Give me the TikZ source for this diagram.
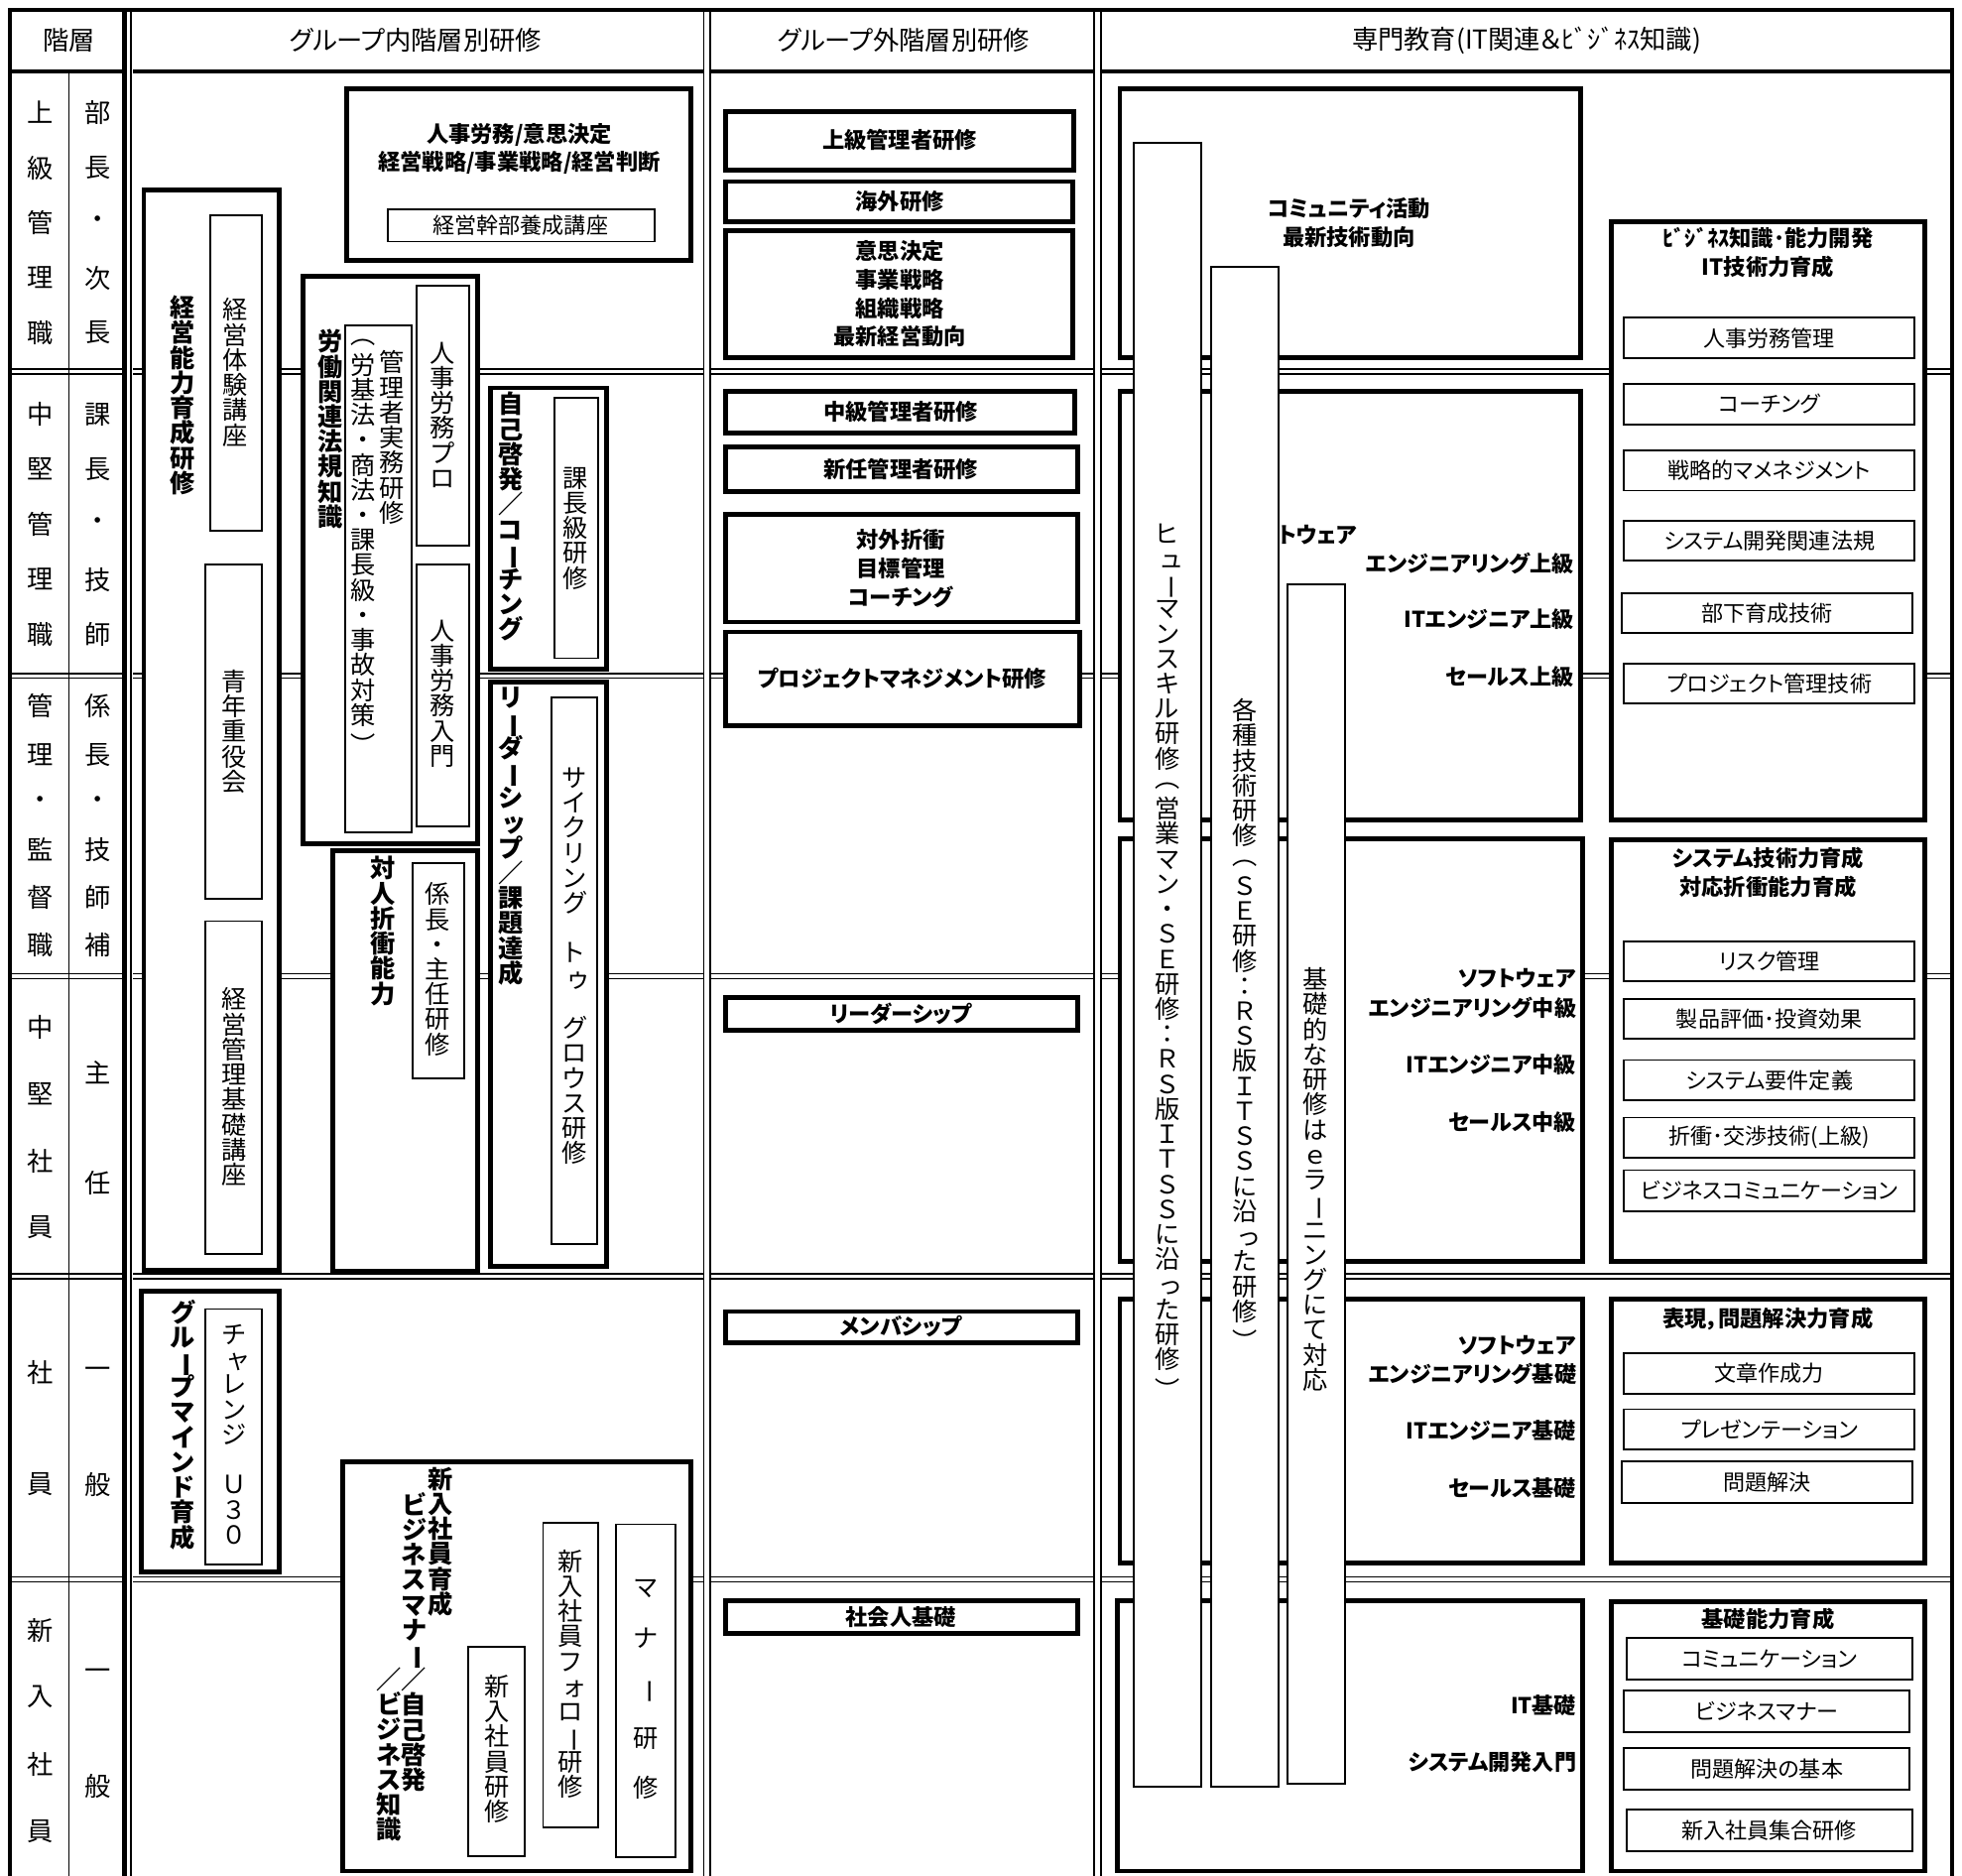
\documentclass[tikz,border=0pt]{standalone}
\usepackage{fontspec}
\usepackage{graphicx}
\setmainfont{Noto Sans CJK JP}[RawFeature=+palt]
\usetikzlibrary{fit}
\newcommand\bx[6]{\node[#1,fit={(#3,#4) (#5,#6)}] (#2) {};}
% ---- vertical text stacking ----
\newcommand\vmap[2]{\expandafter\def\csname vm-#1\endcsname{#2}}
\newcommand\vsm[1]{\kern0.3em#1}
\newcommand\vrot[1]{\rotatebox[origin=c]{-90}{#1}}
\vmap{ー}{\vrot{ー}}
\vmap{（}{\vrot{（}}
\vmap{）}{\vrot{）}}
\vmap{ッ}{\vsm{ッ}}
\vmap{っ}{\vsm{っ}}
\vmap{ュ}{\vsm{ュ}}
\vmap{ャ}{\vsm{ャ}}
\vmap{ゥ}{\vsm{ゥ}}
\vmap{ォ}{\vsm{ォ}}
\def\vend{\vend}
\def\vput#1{\hbox to 1.15em{\hss\ifcsname vm-#1\endcsname\csname vm-#1\endcsname\else#1\fi\hss}}
\def\vloop#1{\ifx#1\vend\else\vput{#1}\expandafter\vloop\fi}
\newcommand\vtx[2][12pt]{\vbox{\baselineskip=#1\relax\lineskiplimit=-\maxdimen\lineskip=0pt\vloop#2\vend}}
\begin{document}
\begin{tikzpicture}[x=0.6pt,y=-0.6pt,
  thickbox/.style={draw,line width=2.3pt,fill=white,inner sep=0pt},
  thinbox/.style={draw,line width=0.9pt,fill=white,inner sep=0pt},
  rowsep/.style={line width=0.8pt,double=white,double distance=1.5pt},
  colsep/.style={line width=0.9pt,double=white,double distance=2.2pt},
  hdr/.style={font=\fontsize{12.5}{14}\selectfont,inner sep=0pt},
  rl/.style={font=\fontsize{12.5}{14}\selectfont,inner sep=0pt},
  bt/.style={font=\fontsize{10.6}{13.6}\selectfont\bfseries,align=center,inner sep=0pt},
  lt/.style={font=\fontsize{10.5}{12}\selectfont,inner sep=0pt},
  st/.style={font=\fontsize{10.5}{12}\selectfont\bfseries,anchor=east,inner sep=0pt},
  vt/.style={anchor=north,inner sep=0pt,font=\fontsize{12}{12}\selectfont},
  vb/.style={anchor=north,inner sep=0pt,font=\fontsize{12}{12}\selectfont\bfseries},
]
\useasboundingbox (0,0) rectangle (1568,1499);
% ---------- grid ----------
\draw[line width=1.6pt] (8,57) -- (1560,57);
\foreach \y in {297,540,780,1020,1262} \draw[rowsep] (8,\y) -- (1560,\y);
\draw[line width=0.6pt] (55,57) -- (55,1499);
\foreach \x in {565,877} \draw[colsep] (\x,8) -- (\x,1499);
\fill[white] (98,8) rectangle (106,1499);
\draw[line width=2.2pt] (99.5,8) -- (99.5,1499);
\draw[line width=0.7pt] (104.5,8) -- (104.5,1499);
\draw[line width=1.8pt] (8,1499) -- (8,8) -- (1560,8) -- (1560,1499);
% ---------- headers ----------
\node[hdr] (h0) at (55,32) {階層};
\node[hdr] (h1) at (332,32) {グループ内階層別研修};
\node[hdr] (h2) at (722,32) {グループ外階層別研修};
\node[hdr] (h3) at (1220,32) {専門教育(IT関連＆ﾋﾞｼﾞﾈｽ知識)};
% ---------- row labels ----------
\foreach \c/\y [count=\i] in {上/90,級/134,管/178,理/222,職/266} \node[rl] (r1a\i) at (32,\y) {\c};
\foreach \c/\y [count=\i] in {部/90,長/134,・/178,次/222,長/266} \node[rl] (r1b\i) at (78,\y) {\c};
\foreach \c/\y [count=\i] in {中/331,堅/375,管/419,理/463,職/507} \node[rl] (r2a\i) at (32,\y) {\c};
\foreach \c/\y [count=\i] in {課/331,長/375,・/419,技/463,師/507} \node[rl] (r2b\i) at (78,\y) {\c};
\foreach \c/\y [count=\i] in {管/564,理/603,・/641,監/679,督/717,職/755} \node[rl] (r3a\i) at (32,\y) {\c};
\foreach \c/\y [count=\i] in {係/564,長/603,・/641,技/679,師/717,補/755} \node[rl] (r3b\i) at (78,\y) {\c};
\foreach \c/\y [count=\i] in {中/821,堅/874,社/928,員/981} \node[rl] (r4a\i) at (32,\y) {\c};
\foreach \c/\y [count=\i] in {主/857,任/945} \node[rl] (r4b\i) at (78,\y) {\c};
\foreach \c/\y [count=\i] in {社/1097,員/1186} \node[rl] (r5a\i) at (32,\y) {\c};
\foreach \c/\y [count=\i] in {一/1097,般/1186} \node[rl] (r5b\i) at (78,\y) {\c};
\foreach \c/\y [count=\i] in {新/1303,入/1356,社/1410,員/1463} \node[rl] (r6a\i) at (32,\y) {\c};
\foreach \c/\y [count=\i] in {一/1338,般/1427} \node[rl] (r6b\i) at (78,\y) {\c};
% ---------- group internal ----------
\bx{thickbox}{b1}{277}{71}{552}{208}
\node[bt] (b1t) at (415,119) {人事労務/意思決定\\経営戦略/事業戦略/経営判断};
\bx{thinbox}{b1s}{310}{167}{523}{193}
\node[lt] (b1st) at (416,180) {経営幹部養成講座};

\bx{thickbox}{kn}{115}{152}{223}{1015}
\node[vb] (knt) at (146,236) {\vtx{経営能力育成研修}};
\bx{thinbox}{kn1}{168}{172}{209}{424}
\node[vt] (kn1t) at (188,238) {\vtx{経営体験講座}};
\bx{thinbox}{kn2}{164}{451}{209}{718}
\node[vt] (kn2t) at (187,535) {\vtx{青年重役会}};
\bx{thinbox}{kn3}{164}{736}{209}{1002}
\node[vt] (kn3t) at (187,789) {\vtx{経営管理基礎講座}};

\bx{thickbox}{rd}{242}{221}{382}{674}
\node[vb] (rdt) at (264,263) {\vtx{労働関連法規知識}};
\bx{thinbox}{rd1}{276}{260}{329}{665}
\node[vt] (rd1t) at (313,280) {\vtx{管理者実務研修}};
\node[vt] (rd1u) at (290,266) {\vtx{（労基法・商法・課長級・事故対策）}};
\bx{thinbox}{rd2}{333}{228}{375}{436}
\node[vt] (rd2t) at (354,273) {\vtx{人事労務プロ}};
\bx{thinbox}{rd3}{333}{451}{375}{660}
\node[vt] (rd3t) at (354,495) {\vtx{人事労務入門}};

\bx{thickbox}{jk}{392}{310}{485}{535}
\node[vb] (jkt) at (408,313) {\vtx{自己啓発／コーチング}};
\bx{thinbox}{jk1}{443}{318}{478}{526}
\node[vt] (jk1t) at (460,373) {\vtx{課長級研修}};

\bx{thickbox}{ld}{392}{545}{485}{1012}
\node[vb] (ldt) at (408,549) {\vtx{リーダーシップ／課題達成}};
\bx{thinbox}{ld1}{441}{557}{477}{994}
\node[vt] (ld1t) at (459,613) {\vtx{サイクリング　トゥ　グロウス研修}};

\bx{thickbox}{tj}{266}{680}{382}{1016}
\node[vb] (tjt) at (306,684) {\vtx{対人折衝能力}};
\bx{thinbox}{tj1}{330}{690}{371}{862}
\node[vt] (tj1t) at (350,705) {\vtx{係長・主任研修}};

\bx{thickbox}{gm}{113}{1032}{223}{1256}
\node[vb] (gmt) at (146,1038) {\vtx{グループマインド育成}};
\bx{thinbox}{gm1}{164}{1046}{209}{1250}
\node[vt] (gm1t) at (187,1058) {\vtx{チャレンジ　Ｕ３０}};

\bx{thickbox}{sn}{274}{1168}{552}{1495}
\node[vb] (snt1) at (352,1172) {\vtx{新入社員育成}};
\node[vb] (snt2) at (331,1192) {\vtx{ビジネスマナー／自己啓発}};
\node[vb] (snt3) at (311,1332) {\vtx{／ビジネス知識}};
\bx{thinbox}{sn1}{374}{1316}{419}{1483}
\node[vt] (sn1t) at (397,1338) {\vtx{新入社員研修}};
\bx{thinbox}{sn2}{434}{1217}{478}{1460}
\node[vt] (sn2t) at (456,1238) {\vtx{新入社員フォロー研修}};
\bx{thinbox}{sn3}{492}{1218}{540}{1484}
\node[vt] (sn3t) at (516,1262) {\vtx{マ　ナ　ー　研　修}};
% ---------- group external ----------
\bx{thickbox}{g1}{580}{89}{858}{136}
\node[bt] (g1t) at (719,112) {上級管理者研修};
\bx{thickbox}{g2}{580}{145}{857}{177}
\node[bt] (g2t) at (719,161) {海外研修};
\bx{thickbox}{g3}{580}{184}{857}{286}
\node[bt] (g3t) at (719,235) {意思決定\\事業戦略\\組織戦略\\最新経営動向};
\bx{thickbox}{g4}{580}{313}{859}{346}
\node[bt] (g4t) at (720,329) {中級管理者研修};
\bx{thickbox}{g5}{580}{357}{861}{393}
\node[bt] (g5t) at (720,375) {新任管理者研修};
\bx{thickbox}{g6}{580}{411}{861}{497}
\node[bt,font=\fontsize{10.6}{13.8}\selectfont\bfseries] (g6t) at (720,454) {対外折衝\\目標管理\\コーチング};
\bx{thickbox}{g7}{580}{505}{863}{580}
\node[bt] (g7t) at (721,542) {プロジェクトマネジメント研修};
\bx{thickbox}{g8}{580}{797}{861}{823}
\node[bt] (g8t) at (720,810) {リーダーシップ};
\bx{thickbox}{g9}{580}{1048}{861}{1073}
\node[bt] (g9t) at (720,1060) {メンバシップ};
\bx{thickbox}{g10}{580}{1279}{861}{1305}
\node[bt] (g10t) at (720,1292) {社会人基礎};
% ---------- specialist: left boxes ----------
\bx{thickbox}{s1}{895}{71}{1263}{286}
\node[bt,font=\fontsize{10.6}{13.8}\selectfont\bfseries] (s1t) at (1078,178) {コミュニティ活動\\最新技術動向};
\bx{thickbox}{s2}{895}{313}{1263}{655}
\bx{thickbox}{s3}{895}{670}{1265}{1008}
\bx{thickbox}{s4}{895}{1038}{1265}{1249}
\bx{thickbox}{s5}{893}{1279}{1265}{1495}
\node[st] (s2a) at (1085,427) {ソフトウェア};
\node[st] (s2b) at (1258,450) {エンジニアリング上級};
\node[st] (s2c) at (1258,495) {ITエンジニア上級};
\node[st] (s2d) at (1258,541) {セールス上級};
\node[st] (s3a) at (1260,782) {ソフトウェア};
\node[st] (s3b) at (1260,805) {エンジニアリング中級};
\node[st] (s3c) at (1260,851) {ITエンジニア中級};
\node[st] (s3d) at (1260,897) {セールス中級};
\node[st] (s4a) at (1260,1075) {ソフトウェア};
\node[st] (s4b) at (1260,1098) {エンジニアリング基礎};
\node[st] (s4c) at (1260,1143) {ITエンジニア基礎};
\node[st] (s4d) at (1260,1189) {セールス基礎};
\node[st] (s5a) at (1260,1363) {IT基礎};
\node[st] (s5b) at (1260,1408) {システム開発入門};
% ---------- specialist: vertical bars ----------
\bx{thinbox}{v1}{906}{114}{960}{1428}
\node[vt] (v1t) at (933,418) {\vtx{ヒューマンスキル研修（営業マン・ＳＥ研修：ＲＳ版ＩＴＳＳに沿った研修）}};
\bx{thinbox}{v2}{968}{213}{1022}{1428}
\node[vt] (v2t) at (995,558) {\vtx{各種技術研修（ＳＥ研修：ＲＳ版ＩＴＳＳに沿った研修）}};
\bx{thinbox}{v3}{1029}{467}{1075}{1425}
\node[vt] (v3t) at (1051,773) {\vtx{基礎的な研修はｅラーニングにて対応}};
% ---------- specialist: right boxes ----------
\bx{thickbox}{R1}{1288}{177}{1538}{655}
\node[bt,font=\fontsize{10.6}{13.8}\selectfont\bfseries] (R1t) at (1413,202) {ﾋﾞｼﾞﾈｽ知識･能力開発\\IT技術力育成};
\bx{thinbox}{R1a}{1298}{254}{1530}{286} \node[lt] (R1at) at (R1a) {人事労務管理};
\bx{thinbox}{R1b}{1298}{307}{1530}{339} \node[lt] (R1bt) at (R1b) {コーチング};
\bx{thinbox}{R1c}{1298}{360}{1530}{392} \node[lt] (R1ct) at (R1c) {戦略的マメネジメント};
\bx{thinbox}{R1d}{1298}{416}{1530}{448} \node[lt] (R1dt) at (R1d) {システム開発関連法規};
\bx{thinbox}{R1e}{1296}{474}{1528}{506} \node[lt] (R1et) at (R1e) {部下育成技術};
\bx{thinbox}{R1f}{1298}{530}{1530}{562} \node[lt] (R1ft) at (R1f) {プロジェクト管理技術};

\bx{thickbox}{R2}{1288}{671}{1538}{1008}
\node[bt,font=\fontsize{10.6}{13.8}\selectfont\bfseries] (R2t) at (1413,697) {システム技術力育成\\対応折衝能力育成};
\bx{thinbox}{R2a}{1298}{752}{1530}{784} \node[lt] (R2at) at (R2a) {リスク管理};
\bx{thinbox}{R2b}{1298}{798}{1530}{830} \node[lt] (R2bt) at (R2b) {製品評価･投資効果};
\bx{thinbox}{R2c}{1298}{847}{1530}{879} \node[lt] (R2ct) at (R2c) {システム要件定義};
\bx{thinbox}{R2d}{1298}{893}{1530}{925} \node[lt] (R2dt) at (R2d) {折衝･交渉技術(上級)};
\bx{thinbox}{R2e}{1298}{935}{1530}{968} \node[lt] (R2et) at (R2e) {ビジネスコミュニケーション};

\bx{thickbox}{R3}{1288}{1038}{1538}{1249}
\node[bt] (R3t) at (1413,1054) {表現，問題解決力育成};
\bx{thinbox}{R3a}{1298}{1081}{1530}{1114} \node[lt] (R3at) at (R3a) {文章作成力};
\bx{thinbox}{R3b}{1298}{1126}{1530}{1158} \node[lt] (R3bt) at (R3b) {プレゼンテーション};
\bx{thinbox}{R3c}{1296}{1168}{1528}{1201} \node[lt] (R3ct) at (R3c) {問題解決};

\bx{thickbox}{R4}{1288}{1280}{1538}{1495}
\node[bt] (R4t) at (1413,1294) {基礎能力育成};
\bx{thinbox}{R4a}{1300}{1309}{1528}{1342} \node[lt] (R4at) at (R4a) {コミュニケーション};
\bx{thinbox}{R4b}{1298}{1351}{1526}{1384} \node[lt] (R4bt) at (R4b) {ビジネスマナー};
\bx{thinbox}{R4c}{1298}{1397}{1526}{1430} \node[lt] (R4ct) at (R4c) {問題解決の基本};
\bx{thinbox}{R4d}{1300}{1446}{1528}{1479} \node[lt] (R4dt) at (R4d) {新入社員集合研修};
\end{tikzpicture}
\end{document}
